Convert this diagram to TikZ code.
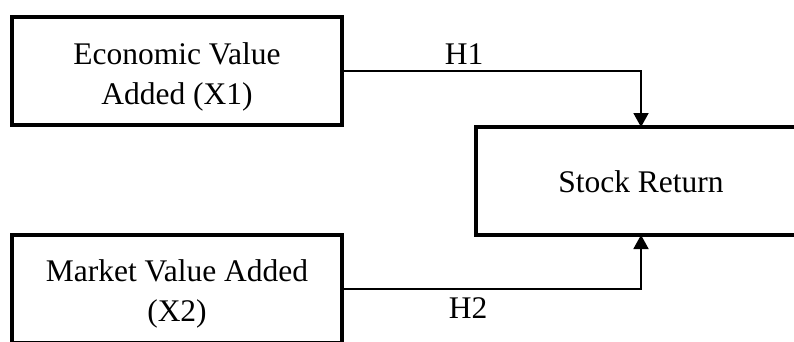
\documentclass[tikz,border=0pt]{standalone}
\usepackage{fontspec}
\setmainfont{Liberation Serif}
\usetikzlibrary{arrows.meta}
\begin{document}
\begin{tikzpicture}[x=1pt,y=-1pt,
  box/.style={draw, line width=4pt, minimum width=330pt, minimum height=108pt, inner sep=0pt, outer sep=0pt},
  txt/.style={inner sep=0pt, align=center, font=\fontsize{31.5}{39.5}\selectfont},
  conn/.style={line width=1.8pt, -{Triangle[length=14pt,width=15pt]}},
  lab/.style={anchor=base, inner sep=0pt, font=\fontsize{31.5}{39}\selectfont}]
\useasboundingbox (0,0) rectangle (794,341);
\clip (0,0) rectangle (794,341);
\fill[white] (0,0) rectangle (794,341);
\node[box] (evm) at (177,71) {};
\node[box] (mva) at (177,289) {};
\node[box] (sr) at (641,181) {};
\node[txt] (evmt) at (177,77) {Economic Value\\Added (X1)};
\node[txt] (mvat) at (177,294) {Market Value Added\\(X2)};
\node[txt] (srt) at (641,182) {Stock Return};
\draw[conn] (evm.east) -| (sr.north);
\draw[conn] (mva.east) -| (sr.south);
\node[lab] (h1) at (464,64) {H1};
\node[lab] (h2) at (468,318) {H2};
\end{tikzpicture}
\end{document}
